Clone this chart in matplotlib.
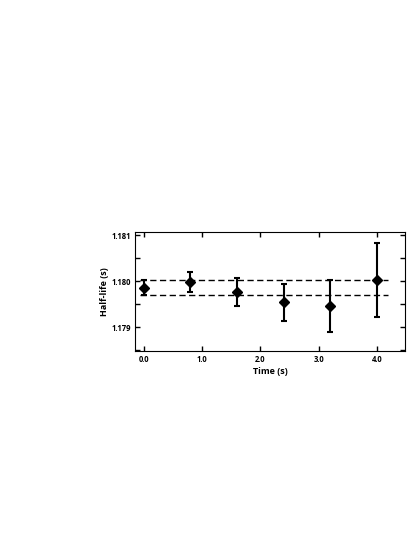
import numpy as np
import matplotlib.pyplot as plt
from matplotlib.ticker import MultipleLocator

# data
time = [0.0, 0.8, 1.6, 2.4, 3.2, 4.0]
half_life = [1.17986, 1.17998, 1.17976, 1.17954, 1.17946, 1.18003]
err = [0.00017, 0.00022, 0.00030, 0.00040, 0.00056, 0.00080]
band = [1.18002, 1.17970]
band_x = [-0.07, 4.18]

plt.rcParams['font.family'] = ['Open Sans', 'DejaVu Sans']

fig = plt.figure(figsize=(4.15, 5.37), dpi=100)
ax = fig.add_axes([135/415, 186/537, 270/415, 119/537])

for b in band:
    ax.plot(band_x, [b, b], color='black', linestyle=(0, (4.5, 2.5)), linewidth=1.0)

ax.errorbar(time, half_life, yerr=err, fmt='D', color='black', markersize=5,
            elinewidth=1.5, capsize=2.5, capthick=1.5)

ax.set_xlim(-0.15, 4.48)
ax.set_ylim(1.17848, 1.18107)

ax.set_xticks(np.arange(0, 4.1, 1.0))
ax.set_xticklabels(['0.0', '1.0', '2.0', '3.0', '4.0'])
ax.set_yticks([1.179, 1.180, 1.181])
ax.set_yticklabels(['1.179', '1.180', '1.181'])
ax.yaxis.set_minor_locator(MultipleLocator(0.0005))

ax.tick_params(which='both', direction='in', top=True, right=True,
               labelsize=5.5, width=1.0, pad=3)
ax.tick_params(which='major', length=3.5)
ax.tick_params(which='minor', length=3.5)
for lab in ax.get_xticklabels() + ax.get_yticklabels():
    lab.set_fontweight('bold')
for s in ax.spines.values():
    s.set_linewidth(0.8)

ax.set_xlabel('Time (s)', fontsize=6.5, fontweight='bold', labelpad=2)
ax.set_ylabel('Half-life (s)', fontsize=6.5, fontweight='bold', labelpad=2)

fig.savefig('out.png', dpi=100)
